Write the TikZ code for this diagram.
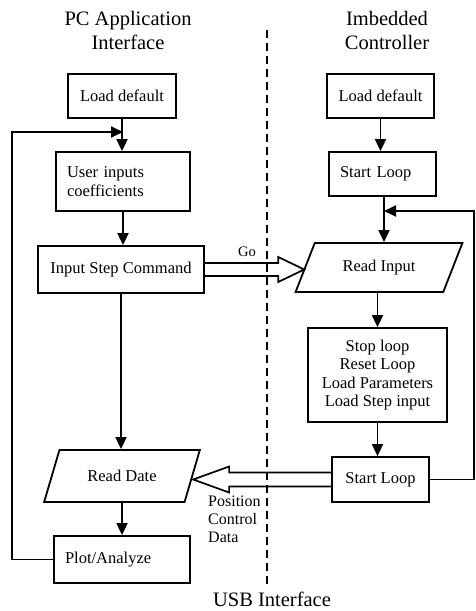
\documentclass[tikz,border=0pt]{standalone}
\usepackage{fontspec}
\setmainfont{Liberation Serif}
\usetikzlibrary{shapes.geometric,arrows.meta,calc}

\begin{document}
\begin{tikzpicture}[x=1pt, y=-1pt,
    box/.style = {draw, line width=1.8pt, rectangle, inner sep=0pt, font=\fontsize{16.5}{18.5}\selectfont},
    lbox/.style = {box, inner xsep=11pt, align=left},
    io/.style = {draw, line width=1.8pt, trapezium, trapezium left angle=54, trapezium right angle=126,
                 trapezium stretches=true, inner sep=0pt, font=\fontsize{16.5}{18.5}\selectfont},
    ttl/.style = {align=center, font=\fontsize{20.5}{24}\selectfont},
    lbl/.style = {align=left, inner sep=0pt, font=\fontsize{16}{18}\selectfont},
    arr/.style = {line width=1.8pt, -{Triangle[length=12pt,width=11pt]}},
    bigarr/.style = {line width=1.7pt, line join=miter},
    hollow/.style n args = {3}{to path={
        let \p1=(\tikztostart), \p2=(\tikztotarget), \n1={sign(\x2-\x1)} in
        (\x1,\y1+#1) -- (\x2-\n1*#2,\y1+#1) -- (\x2-\n1*#2,\y1+#3) -- (\x2,\y1)
        -- (\x2-\n1*#2,\y1-#3) -- (\x2-\n1*#2,\y1-#1) -- (\x1,\y1-#1)}},
    usb/.style = {line width=1.8pt, dash pattern=on 8pt off 5pt}]
\useasboundingbox (0,0) rectangle (475,611);

% titles
\node[ttl] (pctitle) at (128,30) {PC Application\\Interface};
\node[ttl] (ectitle) at (387,30) {Imbedded\\Controller};
\node[ttl] (usbtitle) at (272,599) {USB Interface};

% divider
\coordinate (dtop) at (267,30);
\coordinate (dbot) at (267,587);
\draw[usb] (dtop) -- (dbot);

% PC side
\node[box, minimum width=108pt, minimum height=44pt] (ld1) at (122,96) {Load default};
\node[lbox, text width=112pt, minimum height=59pt] (uin) at (123,181.5) {User inputs\\coefficients};
\node[box, minimum width=166pt, minimum height=47pt] (cmd) at (121,269.5) {Input Step Command};
\node[io, minimum width=156pt, minimum height=52pt] (rd) at (122,476) {Read Date};
\node[lbox, text width=114pt, minimum height=47pt] (plt) at (122,559.5) {Plot/Analyze};

% controller side
\node[box, minimum width=107pt, minimum height=44pt] (ld2) at (380.5,96) {Load default};
\node[lbox, text width=85pt, minimum height=44pt] (sl1) at (382.5,174) {Start Loop};
\node[io, minimum width=168pt, minimum height=49pt] (rin) at (379,267.5) {Read Input};
\node[box, minimum width=139pt, minimum height=94pt, align=center] (stp) at (377.5,375)
    {Stop loop\\Reset Loop\\Load Parameters\\Load Step input};
\node[box, minimum width=97pt, minimum height=45pt] (sl2) at (380.5,479.5) {Start Loop};

\coordinate (lj) at (123,132);
\coordinate (rj) at (384,211);

\draw[arr] (ld1.south) -- (ld1.south |- uin.north);
\draw[arr] (uin.south) -- (uin.south |- cmd.north);
\draw[arr] (cmd.south) -- (cmd.south |- rd.north);
\draw[arr] (rd.south) -- (rd.south |- plt.north);
\draw[arr] (plt.west) -- ++(-41,0) |- (lj);

\draw[arr] (ld2.south) -- (ld2.south |- sl1.north);
\draw[arr] (rj |- sl1.south) -- (rj |- rin.north);
\draw[arr] (rin.south -| stp.north) -- (stp.north);
\draw[arr] (stp.south) -- (stp.south |- sl2.north);
\draw[arr] (sl2.east) -- ++(44,0) |- (rj);

% usb transfers
\draw[bigarr] (cmd.east) to[hollow={6.5}{26}{12.5}] (rin.west);
\draw[bigarr] (sl2.west) to[hollow={7}{36}{13}] (rd.east);
\node[lbl, font=\fontsize{14.5}{16}\selectfont] (go) at (247,252) {Go};
\node[lbl, anchor=north west] (pcd) at (208,496) {Position\\Control\\Data};
\end{tikzpicture}
\end{document}
